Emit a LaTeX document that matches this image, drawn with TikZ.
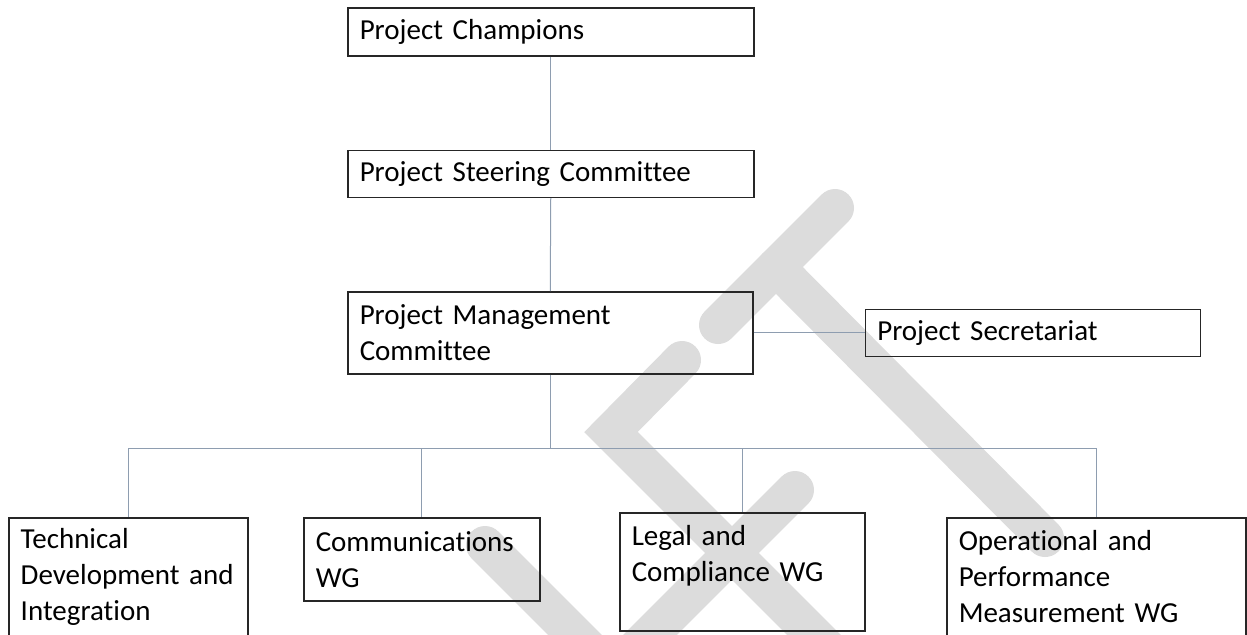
\documentclass[tikz,border=0pt]{standalone}
\usepackage{fontspec}
\setmainfont{Carlito}[Ligatures=NoCommon]
\usetikzlibrary{positioning}
\definecolor{boxline}{HTML}{262626}
\definecolor{linkgray}{HTML}{8E9DB0}
\definecolor{stampgray}{HTML}{DCDCDC}

\begin{document}
\begin{tikzpicture}[
    x=0.5pt, y=-0.5pt,
    node distance=46.5pt,
    orgbox/.style={rectangle, draw=boxline, line width=0.75pt, anchor=north west, align=left, inner xsep=6pt, inner ysep=0pt, font=\fontsize{14.5pt}{18pt}\selectfont},
    link/.style={draw=linkgray, line width=0.5pt},
    stamp/.style={draw=stampgray, line width=19pt, line cap=round}
]
\useasboundingbox (0,0) rectangle (1247,634);

% watermark behind the chart
\begin{scope}
\clip (0,0) rectangle (1247,634);
\draw[stamp] (718,325) -- (835,208);
\draw[stamp] (776,267) -- (1045,538);
\draw[stamp, line join=miter] (682,360) -- (611,432) -- (830,651);
\draw[stamp] (795,490) -- (630,655);
\draw[stamp] (485,545) -- (595,655);
\end{scope}

\node[orgbox, text width=191pt, minimum height=24pt] (champ) at (347,7) {Project Champions};
\node[orgbox, text width=191pt, minimum height=23.5pt, below=of champ.south west, anchor=north west] (steer) {Project Steering Committee};
\node[orgbox, text width=190.5pt, minimum height=41pt, below=of steer.south west, anchor=north west] (mgmt) {Project Management\\Committee};
\node[orgbox, text width=155.5pt, minimum height=23.5pt, right=55.5pt of mgmt, anchor=west] (sec) {Project Secretariat};

\node[orgbox, text width=107.5pt, minimum height=58.75pt] (tech) at (8,517) {Technical\\Development and\\Integration};
\node[orgbox, text width=106pt, minimum height=41.5pt] (comm) at (303,517) {Communications\\WG};
\node[orgbox, text width=110.5pt, minimum height=59pt] (legal) at (619,512) {Legal and\\Compliance WG\\~};
\node[orgbox, text width=137.5pt, minimum height=58.75pt] (oper) at (946,517) {Operational and\\Performance\\Measurement WG};

\coordinate[below=37pt of mgmt.south] (bus);

\draw[link] (champ.south) -- (steer.north);
\draw[link] (steer.south) -- (mgmt.north);
\draw[link] (mgmt.east) -- (sec.west);
\draw[link] (mgmt.south) -- (bus);
\foreach \wg in {tech, comm, legal, oper}
    \draw[link] (bus) -| (\wg.north);
\end{tikzpicture}
\end{document}
